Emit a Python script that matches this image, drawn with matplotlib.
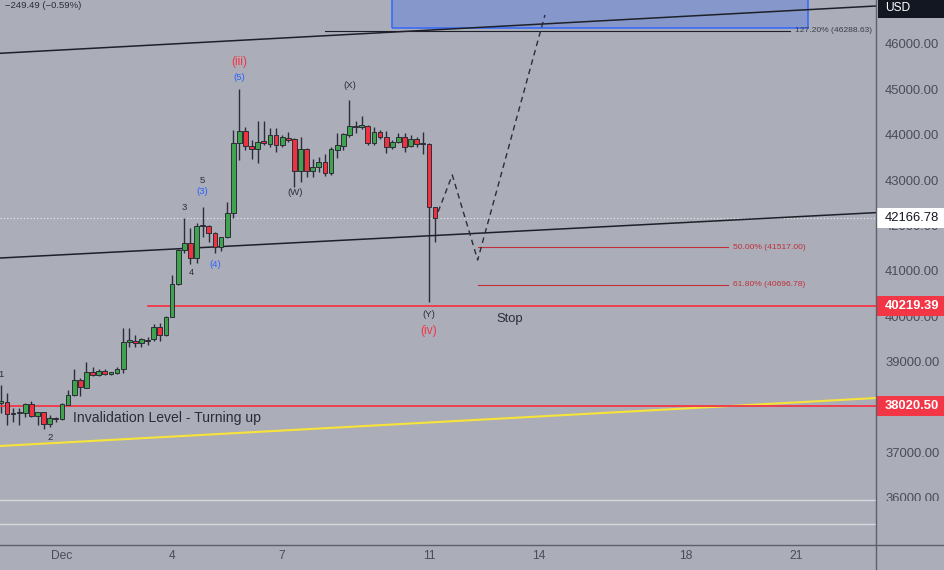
import numpy as np
import pandas as pd
import matplotlib
matplotlib.use('Agg')
import matplotlib.pyplot as plt
import matplotlib.dates as mdates
from matplotlib.patches import Rectangle
from matplotlib.transforms import blended_transform_factory

# BTCUSD 4h candles, 29 Nov 2023 08:00 -> 11 Dec 2023 04:00
times = pd.date_range('2023-11-29 08:00', periods=72, freq='4h')
opens = [38100, 38120, 37849, 37870, 37877, 38069, 37811, 37886, 37622, 37767,
         37739, 38047, 38267, 38598, 38428, 38780, 38708, 38802, 38740, 38745,
         38833, 39435, 39457, 39406, 39452, 39494, 39772, 39589, 39992, 40712,
         41462, 41609, 41279, 41985, 41990, 41829, 41534, 41741, 42270, 43812,
         44090, 43753, 43693, 43856, 43797, 44002, 43768, 43935, 43900, 43202,
         43680, 43209, 43283, 43400, 43164, 43665, 43759, 43995, 44200, 44165,
         44200, 43825, 44054, 43944, 43724, 43847, 43958, 43753, 43900, 43795,
         43797, 42416.27]
highs = [38490, 38311, 37981, 37981, 38091, 38142, 37899, 37899, 37827, 37789,
         38084, 38377, 38840, 38642, 39001, 38891, 38840, 38840, 38780, 38891,
         39743, 39743, 39589, 39516, 39552, 39825, 39847, 40007, 40911, 41480,
         42160, 41940, 42050, 42415, 42012, 41865, 41754, 42526, 44105, 45002,
         44165, 43885, 44303, 44303, 44156, 44156, 43995, 44061, 43922, 43944,
         43702, 43460, 43504, 43576, 43737, 44046, 44032, 44766, 44310, 44414,
         44215, 44178, 44105, 44090, 43885, 44032, 44046, 43995, 43958, 44054,
         43812, 42358]
lows = [37870, 37606, 37672, 37606, 37774, 37789, 37606, 37511, 37569, 37679,
        37717, 38040, 38245, 38245, 38421, 38686, 38686, 38697, 38708, 38730,
        38758, 39331, 39331, 39331, 39369, 39463, 39463, 39567, 39979, 40690,
        41389, 41153, 41182, 41754, 41644, 41389, 41446, 41719, 42160, 43444,
        43665, 43460, 43385, 43775, 43737, 43627, 43737, 43847, 42856, 42966,
        43076, 43076, 43186, 43092, 43114, 43482, 43665, 43958, 44046, 44121,
        43775, 43775, 43900, 43592, 43680, 43812, 43627, 43724, 43737, 43576,
        40323, 41644]
closes = [38130, 37849, 37877, 37880, 38069, 37805, 37886, 37622, 37754, 37739,
          38069, 38267, 38598, 38437, 38774, 38708, 38802, 38723, 38750, 38833,
          39428, 39479, 39406, 39494, 39462, 39772, 39589, 39992, 40712, 41462,
          41609, 41279, 41990, 41995, 41843, 41534, 41741, 42270, 43812, 44090,
          43753, 43693, 43841, 43812, 43988, 43768, 43944, 43885, 43202, 43680,
          43202, 43297, 43400, 43164, 43680, 43775, 44010, 44200, 44165, 44209,
          43825, 44068, 43944, 43724, 43847, 43958, 43737, 43900, 43790, 43800,
          42416.27, 42166.78]

last_price = 42166.78
stop_level = 40219.39
invalidation_level = 38020.50
price_ticks = [36000, 37000, 38000, 39000, 40000, 41000, 42000, 43000, 44000, 45000, 46000]
date_ticks = ['2023-12-01', '2023-12-04', '2023-12-07', '2023-12-11', '2023-12-14', '2023-12-18', '2023-12-21']
date_labels = ['Dec', '4', '7', '11', '14', '18', '21']

# drawings
view_start = '2023-11-29 07:28'
view_end = '2023-12-23 04:20'
upper_channel = [45795, 46837]       # at view_start / view_end
lower_channel = [41285, 42285]
yellow_trend = [37144, 38201]
fib_127 = ('2023-12-08 04:00', '2023-12-20 20:00', 46288.63, '127.20% (46288.63)')
fib_50 = ('2023-12-12 08:00', '2023-12-19 03:30', 41517.00, '50.00% (41517.00)')
fib_618 = ('2023-12-12 08:00', '2023-12-19 03:30', 40696.78, '61.80% (40696.78)')
target_box = ('2023-12-10 00:00', '2023-12-21 08:00', 46346, 47500)
path_times = ['2023-12-11 06:00', '2023-12-11 15:15', '2023-12-12 07:50', '2023-12-14 03:50']
path_prices = [42305, 43114, 41241, 46639]
faint_levels = [35954, 35426]

# wave labels: text, time, price, color, size(px)
dark = '#2a2e39'
waves = [
    ('(iii)', '2023-12-05 20:00', 45603, '#f23645', 12),
    ('(5)', '2023-12-05 20:00', 45251, '#2962ff', 9.5),
    ('(X)', '2023-12-08 20:30', 45096, dark, 9.5),
    ('(W)', '2023-12-07 08:30', 42739, dark, 9.5),
    ('5', '2023-12-04 20:00', 42982, dark, 9.5),
    ('(3)', '2023-12-04 20:00', 42761, '#2962ff', 9.5),
    ('3', '2023-12-04 07:40', 42387, dark, 9.5),
    ('4', '2023-12-04 12:20', 40977, dark, 9.5),
    ('(4)', '2023-12-05 04:00', 41153, '#2962ff', 9.5),
    ('1', '2023-11-29 08:00', 38708, dark, 9.5),
    ('2', '2023-11-30 16:00', 37342, dark, 9.5),
    ('(Y)', '2023-12-11 00:00', 40051, dark, 9.5),
    ('(iv)', '2023-12-11 00:00', 39688, '#f23645', 12),
]

W, H = 944, 570
bg = '#abadb8'
px = 0.72  # px -> pt at 100 dpi
plt.rcParams['font.family'] = ['Liberation Sans', 'DejaVu Sans']

fig = plt.figure(figsize=(W / 100, H / 100), dpi=100)
fig.patch.set_facecolor(bg)
ax = fig.add_axes([0, 25 / H, 876 / W, 545 / H])
ax.set_facecolor(bg)

x = mdates.date2num(times)
o = np.array(opens)
c = np.array(closes)
up = c >= o
body_low = np.minimum(o, c)
body_h = np.maximum(np.abs(c - o), 25)
colors = np.where(up, '#3fa34d', '#f0313f')
ax.vlines(x, lows, highs, color='#2b2e38', linewidth=1, zorder=2)
ax.bar(x, body_h, bottom=body_low, width=0.13, color=colors,
       edgecolor='#2b2e38', linewidth=0.7, zorder=3)

xs = mdates.date2num(pd.to_datetime([view_start, view_end]))
ax.plot(xs, upper_channel, color='#1e2029', lw=1.1, zorder=2)
ax.plot(xs, lower_channel, color='#1e2029', lw=1.1, zorder=2)
ax.plot(xs, yellow_trend, color='#f7e43a', lw=1.5, zorder=2)

ax.axhline(invalidation_level, color='#f23645', lw=1.3, zorder=2)
ax.plot(mdates.date2num(pd.to_datetime(['2023-12-03 08:00', view_end])),
        [stop_level, stop_level], color='#f23645', lw=1.3, zorder=2)
ax.axhline(last_price, color='#eeeeee', lw=0.8, ls=(0, (1, 2)), zorder=1)
for lvl in faint_levels:
    ax.axhline(lvl, color='#d6d8de', lw=1, zorder=1)

# target box
b0, b1 = mdates.date2num(pd.to_datetime(target_box[:2]))
ax.add_patch(Rectangle((b0, target_box[2]), b1 - b0, target_box[3] - target_box[2],
                       facecolor='#2962ff', alpha=0.28, edgecolor='none', zorder=1))
ax.add_patch(Rectangle((b0, target_box[2]), b1 - b0, target_box[3] - target_box[2],
                       facecolor='none', edgecolor='#3a6cf5', lw=1.2, zorder=1))

# fib levels
for t0, t1, lvl, lab, col in [fib_127 + ('#1e2029',), fib_50 + ('#c0313c',), fib_618 + ('#c0313c',)]:
    f0, f1 = mdates.date2num(pd.to_datetime([t0, t1]))
    ax.plot([f0, f1], [lvl, lvl], color=col, lw=0.8, zorder=2)
    ax.text(f1 + 0.14, lvl, lab, color=col if col != '#1e2029' else '#3b3e48',
            fontsize=8.5 * px, va='center', ha='left', zorder=4)

# projected path
ax.plot(mdates.date2num(pd.to_datetime(path_times)), path_prices,
        color='#2a2e39', lw=1, ls=(0, (4, 3)), zorder=3)

for txt, t, p, col, size in waves:
    ax.text(mdates.date2num(pd.Timestamp(t)), p, txt, color=col, fontsize=size * px,
            ha='center', va='center', zorder=4)

ax.text(mdates.date2num(pd.Timestamp('2023-12-01 07:15')), 37761,
        'Invalidation Level - Turning up', color=dark, fontsize=14 * px,
        ha='left', va='center', zorder=4)
ax.text(mdates.date2num(pd.Timestamp('2023-12-13 04:30')), 39941, 'Stop',
        color=dark, fontsize=13 * px, ha='center', va='center', zorder=4)

ax.set_xlim(xs[0], xs[1])
ax.set_ylim(34963, 46969)

ax.yaxis.tick_right()
ax.set_yticks(price_ticks)
ax.set_yticklabels(['%.2f' % v for v in price_ticks])
ax.set_xticks(mdates.date2num(pd.to_datetime(date_ticks)))
ax.set_xticklabels(date_labels)
ax.tick_params(axis='y', length=0, pad=9 * px, labelsize=13 * px, labelcolor='#4a4d57')
ax.tick_params(axis='x', length=0, pad=5 * px, labelsize=12 * px, labelcolor='#4a4d57')
for s in ['top', 'left', 'right', 'bottom']:
    ax.spines[s].set_visible(False)

# axis separator lines
fig.add_artist(plt.Line2D([876 / W, 876 / W], [0, 1], color='#5d606b', lw=1))
fig.add_artist(plt.Line2D([0, 1], [25 / H, 25 / H], color='#5d606b', lw=1))

# hide lower half of the 36000 label like the reference
ax.add_patch(Rectangle((877 / W, 25 / H), 67 / W, 44 / H, transform=fig.transFigure,
                       facecolor=bg, edgecolor='none', clip_on=False, zorder=4))

# price labels on the right scale
trans = blended_transform_factory(fig.transFigure, ax.transData)
for lvl, face, txtcol, weight in [(last_price, 'white', '#131722', 'normal'),
                                  (stop_level, '#f23645', 'white', 'bold'),
                                  (invalidation_level, '#f23645', 'white', 'bold')]:
    ax.add_patch(Rectangle((876 / W, lvl - 220), 68 / W, 440, transform=trans,
                           facecolor=face, edgecolor='none', clip_on=False, zorder=5))
    ax.text(885 / W, lvl, '%.2f' % lvl, transform=trans, color=txtcol,
            fontsize=13 * px, fontweight=weight, ha='left', va='center',
            clip_on=False, zorder=6)

# USD tag
fig.patches.append(Rectangle((878 / W, 1 - 18 / H), 66 / W, 18 / H, transform=fig.transFigure,
                             facecolor='#131722', edgecolor='none'))
fig.text(885 / W, 1 - 8 / H, 'USD', color='white', fontsize=12 * px, va='center', ha='left')

fig.text(5 / W, 1 - 6 / H, '\u2212249.49 (\u22120.59%)', color=dark, fontsize=9.5 * px,
         va='center', ha='left')

fig.savefig('out.png', dpi=100, facecolor=bg)
